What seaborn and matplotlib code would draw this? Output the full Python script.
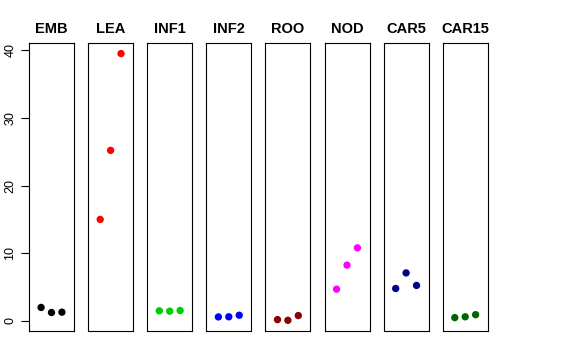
import matplotlib
matplotlib.use("Agg")
import matplotlib.pyplot as plt
import seaborn as sns
import pandas as pd

tissues = ["EMB", "LEA", "INF1", "INF2", "ROO", "NOD", "CAR5", "CAR15"]
colors = ["#000000", "#FF0000", "#00CD00", "#0000FF", "#8B0000", "#FF00FF", "#00008B", "#006400"]
replicate = [1, 2, 3]
values = {
    "EMB": [2.0, 1.25, 1.3],
    "LEA": [15.0, 25.2, 39.5],
    "INF1": [1.5, 1.45, 1.55],
    "INF2": [0.6, 0.62, 0.85],
    "ROO": [0.2, 0.1, 0.8],
    "NOD": [4.7, 8.25, 10.8],
    "CAR5": [4.8, 7.1, 5.25],
    "CAR15": [0.5, 0.62, 0.93],
}
yticks = [0, 10, 20, 30, 40]

rows = []
for t in tissues:
    for r, v in zip(replicate, values[t]):
        rows.append({"tissue": t, "rep": r, "value": v})
df = pd.DataFrame(rows)

sns.set_style("white")
plt.rcParams["font.family"] = ["Liberation Sans", "DejaVu Sans"]
plt.rcParams["text.color"] = "black"
plt.rcParams["axes.labelcolor"] = "black"
plt.rcParams["ytick.color"] = "black"
plt.rcParams["ytick.labelcolor"] = "black"

fig = plt.figure(figsize=(5.76, 3.6), dpi=100)
W, H = 576.0, 360.0
left0, pitch, pw = 29.0, 59.1, 45.0
top, bottom = 43.0, 331.0

for i, (t, c) in enumerate(zip(tissues, colors)):
    x0 = left0 + i * pitch
    ax = fig.add_axes([x0 / W, (H - bottom) / H, pw / W, (bottom - top) / H])
    sub = df[df["tissue"] == t]
    sns.scatterplot(data=sub, x="rep", y="value", color=c, s=28,
                    edgecolor="none", ax=ax, legend=False)
    ax.set_xlim(-0.16, 4.16)
    ax.set_ylim(-1.48, 41.06)
    ax.set_xticks([])
    ax.set_xlabel("")
    ax.set_ylabel("")
    for sp in ax.spines.values():
        sp.set_visible(True)
        sp.set_color("black")
        sp.set_linewidth(0.8)
    ax.set_title(t, fontsize=10.5, fontweight="bold", pad=7, color="black")
    if i == 0:
        ax.set_yticks(yticks)
        ax.set_yticklabels([str(v) for v in yticks], rotation=90, va="center",
                           fontsize=9, color="black")
        ax.tick_params(axis="y", left=True, length=6, width=0.8, pad=3, colors="black")
    else:
        ax.set_yticks([])

fig.savefig("out.png", dpi=100, facecolor="white")
